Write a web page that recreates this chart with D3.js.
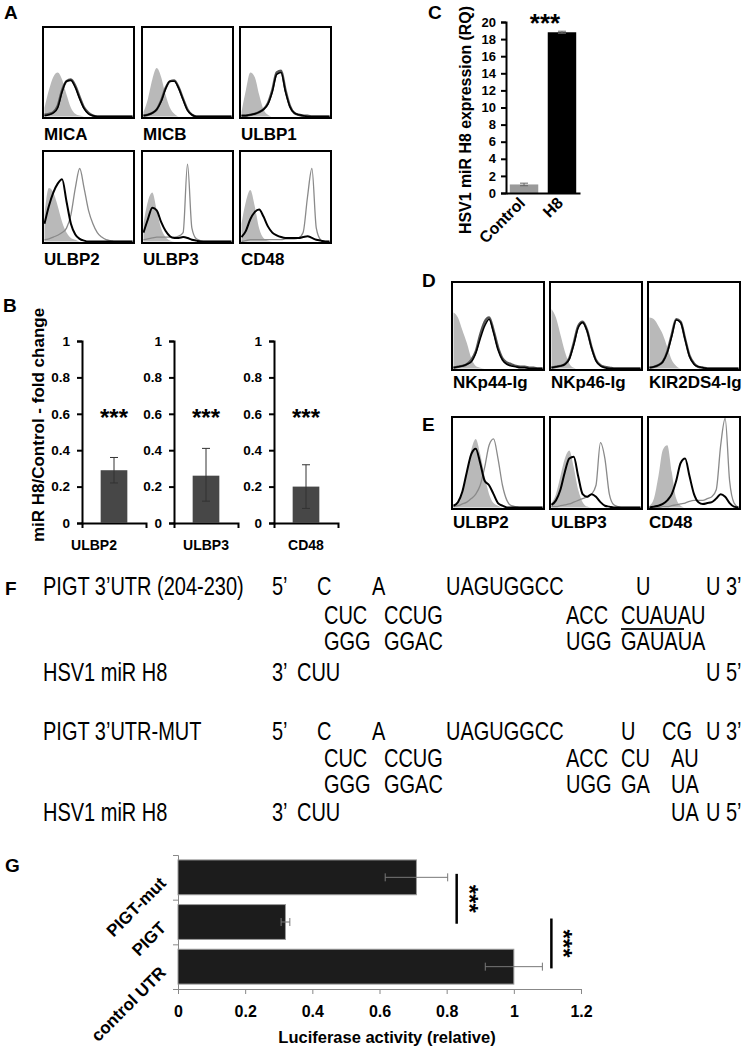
<!DOCTYPE html>
<html lang="en">
<head>
<meta charset="UTF-8">
<script src="https://d3js.org/d3.v7.min.js"></script>
<style>
  body { margin: 0; background: #fff; }
  svg text { font-family: "Liberation Sans", Arial, sans-serif; fill: #000; }
  .seq { font-size: 25px; }
</style>
</head>
<body>
<div id="chart_area"></div>
<script>
// ---------- data ----------
// flow histograms, 21 channels across each box, height = fraction of box
var histA_labels = ["MICA", "MICB", "ULBP1", "ULBP2", "ULBP3", "CD48"];
var histA_iso = [
  [0.10,0.30,0.45,0.50,0.42,0.25,0.10,0.03,0.01,0,0,0,0,0,0,0,0,0,0,0,0],
  [0.05,0.20,0.42,0.55,0.45,0.25,0.10,0.03,0,0,0,0,0,0,0,0,0,0,0,0,0],
  [0.05,0.30,0.50,0.45,0.25,0.08,0.02,0,0,0,0,0,0,0,0,0,0,0,0,0,0],
  [0.30,0.60,0.55,0.40,0.22,0.10,0.04,0.02,0,0,0,0,0,0,0,0,0,0,0,0,0],
  [0.20,0.45,0.55,0.35,0.15,0.05,0.01,0,0,0,0,0,0,0,0,0,0,0,0,0,0],
  [0.20,0.45,0.58,0.40,0.15,0.04,0.01,0,0,0,0,0,0,0,0,0,0,0,0,0,0]
];
var histA_ctrl = [
  [0.02,0.03,0.05,0.12,0.30,0.40,0.42,0.35,0.22,0.10,0.04,0.01,0,0,0,0,0,0,0,0,0],
  [0.01,0.02,0.04,0.08,0.18,0.32,0.40,0.41,0.33,0.20,0.08,0.02,0,0,0,0,0,0,0,0,0],
  [0.01,0.01,0.02,0.03,0.05,0.08,0.15,0.30,0.50,0.52,0.30,0.12,0.04,0.02,0.01,0.01,0,0,0,0,0],
  [0.02,0.03,0.05,0.07,0.10,0.15,0.30,0.60,0.82,0.60,0.35,0.20,0.10,0.05,0.02,0.01,0,0,0,0,0],
  [0.02,0.03,0.04,0.05,0.05,0.05,0.05,0.05,0.06,0.10,0.87,0.15,0.03,0.01,0,0,0,0,0,0,0],
  [0,0.01,0.02,0.02,0.02,0.02,0.02,0.02,0.02,0.02,0.03,0.03,0.03,0.04,0.10,0.50,0.82,0.15,0.02,0,0]
];
var histA_h8 = [
  [0.01,0.02,0.04,0.10,0.28,0.40,0.41,0.33,0.20,0.09,0.03,0.01,0,0,0,0,0,0,0,0,0],
  [0.01,0.02,0.04,0.08,0.17,0.31,0.40,0.40,0.32,0.19,0.07,0.02,0,0,0,0,0,0,0,0,0],
  [0.01,0.01,0.02,0.03,0.05,0.08,0.14,0.28,0.48,0.50,0.28,0.11,0.04,0.02,0.01,0,0,0,0,0,0],
  [0.20,0.40,0.55,0.65,0.70,0.45,0.20,0.08,0.03,0.01,0,0,0,0,0,0,0,0,0,0,0],
  [0.10,0.25,0.38,0.35,0.22,0.12,0.06,0.04,0.04,0.05,0.04,0.02,0.01,0,0,0,0,0,0,0,0],
  [0.05,0.12,0.25,0.33,0.36,0.28,0.17,0.10,0.07,0.05,0.04,0.04,0.04,0.04,0.05,0.06,0.04,0.02,0.01,0,0]
];

var histD_labels = ["NKp44-Ig", "NKp46-Ig", "KIR2DS4-Ig"];
var histD_iso = [
  [0.66,0.60,0.45,0.30,0.12,0.03,0.01,0,0,0,0,0,0,0,0,0,0,0,0,0,0],
  [0.70,0.60,0.40,0.20,0.06,0.01,0,0,0,0,0,0,0,0,0,0,0,0,0,0,0],
  [0.60,0.58,0.50,0.40,0.25,0.10,0.03,0,0,0,0,0,0,0,0,0,0,0,0,0,0]
];
var histD_ctrl = [
  [0.01,0.02,0.03,0.05,0.10,0.20,0.40,0.55,0.60,0.45,0.25,0.12,0.07,0.05,0.03,0.02,0.02,0.01,0.01,0,0],
  [0.01,0.02,0.03,0.05,0.12,0.30,0.50,0.55,0.45,0.25,0.10,0.04,0.02,0.01,0,0,0,0,0,0,0],
  [0.01,0.02,0.04,0.08,0.20,0.40,0.58,0.55,0.35,0.15,0.06,0.02,0.01,0,0,0,0,0,0,0,0]
];
var histD_h8 = [
  [0.01,0.02,0.03,0.05,0.08,0.18,0.35,0.50,0.58,0.42,0.22,0.10,0.05,0.03,0.02,0.01,0.01,0,0,0,0],
  [0.01,0.02,0.03,0.05,0.11,0.28,0.48,0.54,0.44,0.24,0.09,0.03,0.01,0,0,0,0,0,0,0,0],
  [0.01,0.02,0.04,0.08,0.19,0.38,0.57,0.54,0.34,0.14,0.05,0.02,0.01,0,0,0,0,0,0,0,0]
];

var histE_labels = ["ULBP2", "ULBP3", "CD48"];
var histE_iso = [
  [0.02,0.08,0.20,0.40,0.65,0.77,0.60,0.35,0.15,0.05,0.02,0,0,0,0,0,0,0,0,0,0],
  [0.05,0.15,0.35,0.55,0.64,0.45,0.20,0.06,0.01,0,0,0,0,0,0,0,0,0,0,0,0],
  [0.02,0.10,0.35,0.65,0.70,0.40,0.10,0.02,0,0,0,0,0,0,0,0,0,0,0,0,0]
];
var histE_ctrl = [
  [0.01,0.02,0.04,0.06,0.10,0.15,0.25,0.45,0.70,0.77,0.55,0.25,0.08,0.02,0.01,0,0,0,0,0,0],
  [0.01,0.01,0.02,0.03,0.04,0.06,0.08,0.10,0.12,0.15,0.25,0.73,0.55,0.15,0.03,0.01,0,0,0,0,0],
  [0,0,0,0.01,0.01,0.02,0.03,0.04,0.05,0.07,0.08,0.08,0.08,0.10,0.12,0.20,0.70,1.00,0.30,0.05,0]
];
var histE_h8 = [
  [0.02,0.06,0.18,0.40,0.60,0.66,0.50,0.30,0.25,0.15,0.05,0.02,0,0,0,0,0,0,0,0,0],
  [0.03,0.08,0.20,0.40,0.55,0.57,0.35,0.15,0.12,0.15,0.12,0.06,0.02,0.01,0,0,0,0,0,0,0],
  [0,0.01,0.02,0.04,0.08,0.15,0.30,0.50,0.55,0.35,0.15,0.06,0.04,0.05,0.06,0.10,0.15,0.12,0.05,0.01,0]
];

// panel B
var foldGenes = ["ULBP2", "ULBP3", "CD48"];
var foldValues = [0.29, 0.26, 0.20];
var foldErrLow = [0.22, 0.12, 0.08];
var foldErrHigh = [0.36, 0.41, 0.32];
var foldTicks = [0, 0.2, 0.4, 0.6, 0.8, 1];

// panel C
var rqGroups = ["Control", "H8"];
var rqValues = [1.0, 18.8];
var rqErr = [0.15, 0.12];
var rqTicks = [0, 2, 4, 6, 8, 10, 12, 14, 16, 18, 20];

// panel G
var lucGroups = ["PIGT-mut", "PIGT", "control UTR"];
var lucValues = [0.71, 0.32, 1.0];
var lucErr = [0.093, 0.013, 0.085];
var lucTicks = [0, 0.2, 0.4, 0.6, 0.8, 1, 1.2];
var lucSig = [[0, 1], [1, 2]];

// panel F sequences
var seqWild = [
  [["PIGT 3\u2019UTR (204-230)", 43], ["5\u2019", 272], ["C", 317], ["A", 372], ["UAGUGGCC", 446], ["U", 636], ["U 3\u2019", 706]],
  [["CUC", 324], ["CCUG", 384], ["ACC", 566], ["CUAUAU", 621]],
  [["GGG", 324], ["GGAC", 384], ["UGG", 566], ["GAUAUA", 621]],
  [["HSV1 miR H8", 43], ["3\u2019", 272], ["CUU", 297], ["U 5\u2019", 706]]
];
var seqMut = [
  [["PIGT 3\u2019UTR-MUT", 43], ["5\u2019", 272], ["C", 317], ["A", 372], ["UAGUGGCC", 446], ["U", 621], ["CG", 662], ["U 3\u2019", 706]],
  [["CUC", 324], ["CCUG", 384], ["ACC", 566], ["CU", 621], ["AU", 671]],
  [["GGG", 324], ["GGAC", 384], ["UGG", 566], ["GA", 621], ["UA", 671]],
  [["HSV1 miR H8", 43], ["3\u2019", 272], ["CUU", 297], ["UA", 671], ["U 5\u2019", 706]]
];

// ---------- drawing ----------
var svg = d3.select("#chart_area").append("svg")
  .attr("width", 744).attr("height", 1050);

function letter(t, x, y) {
  svg.append("text").attr("x", x).attr("y", y)
    .attr("font-weight", "bold").attr("font-size", 19).text(t);
}

function drawHist(x0, y0, w, h, iso, ctrl, h8, label, thin, gap) {
  var x = d3.scaleLinear().domain([0, iso.length - 1]).range([x0 + 1.5, x0 + w - 1.5]);
  var y = d3.scaleLinear().domain([0, 1]).range([y0 + h - 1.5, y0 + 1.5]);
  var area = d3.area().x(function(d, i) { return x(i); }).y0(y(0)).y1(function(d) { return y(d); })
    .curve(d3.curveMonotoneX);
  var line = d3.line().x(function(d, i) { return x(i); }).y(function(d) { return y(d); })
    .curve(d3.curveMonotoneX);
  svg.append("path").datum(iso).attr("d", area).attr("fill", "#b9b9b9");
  svg.append("path").datum(ctrl).attr("d", line).attr("fill", "none")
    .attr("stroke", thin ? "#8a8a8a" : "#555").attr("stroke-width", thin ? 1.3 : 2.4);
  svg.append("path").datum(h8).attr("d", line).attr("fill", "none")
    .attr("stroke", "#000").attr("stroke-width", thin ? 2 : 1.6);
  svg.append("rect").attr("x", x0).attr("y", y0).attr("width", w).attr("height", h)
    .attr("fill", "none").attr("stroke", "#000").attr("stroke-width", 2);
  svg.append("text").attr("x", x0 + 1).attr("y", y0 + h + gap)
    .attr("font-weight", "bold").attr("font-size", 17).text(label);
}

// panel A
letter("A", 4, 19);
var aCols = [43, 142, 240];
histA_labels.forEach(function(lab, i) {
  var row = Math.floor(i / 3);
  drawHist(aCols[i % 3], row ? 151 : 27, 91, row ? 92 : 91,
    histA_iso[i], histA_ctrl[i], histA_h8[i], lab, row === 1, 22);
});

// panel D and E
letter("D", 422, 287);
letter("E", 422, 431);
var deCols = [452, 550, 648];
histD_labels.forEach(function(lab, i) {
  drawHist(deCols[i], 282, 92, 88, histD_iso[i], histD_ctrl[i], histD_h8[i], lab, false, 18);
});
histE_labels.forEach(function(lab, i) {
  drawHist(deCols[i], 417, 92, 92, histE_iso[i], histE_ctrl[i], histE_h8[i], lab, true, 19);
});

// panel B
letter("B", 3, 312);
var yB = d3.scaleLinear().domain([0, 1]).range([523, 341]);
var bAxisX = [82, 174, 274];
var bLabelShift = [-20, 0, 0];
foldGenes.forEach(function(gene, i) {
  var xB = d3.scaleBand().domain([gene]).range([bAxisX[i], bAxisX[i] + 64])
    .paddingInner(0.5).paddingOuter(0.35);
  var g = svg.append("g");
  g.append("g").attr("transform", "translate(0,523)")
    .call(d3.axisBottom(xB).tickSizeInner(0).tickSizeOuter(5).tickFormat(""))
    .call(function(s) { s.select(".domain").attr("stroke-width", 2); });
  g.append("g").attr("transform", "translate(" + bAxisX[i] + ",0)")
    .call(d3.axisLeft(yB).tickValues(foldTicks).tickFormat(d3.format("~g")).tickSize(5).tickPadding(7))
    .call(function(s) {
      s.select(".domain").attr("stroke-width", 2);
      s.selectAll(".tick line").attr("stroke-width", 2);
      s.selectAll("text").attr("font-size", 13.5).attr("font-weight", "bold")
        .attr("font-family", "Liberation Sans, Arial, sans-serif");
    });
  var cx = xB(gene) + xB.bandwidth() / 2;
  g.append("rect").attr("x", xB(gene)).attr("y", yB(foldValues[i]))
    .attr("width", xB.bandwidth()).attr("height", yB(0) - yB(foldValues[i]))
    .attr("fill", "#474747");
  g.append("line").attr("x1", cx).attr("x2", cx)
    .attr("y1", yB(foldErrLow[i])).attr("y2", yB(foldErrHigh[i]))
    .attr("stroke", "#333").attr("stroke-width", 1);
  [foldErrLow[i], foldErrHigh[i]].forEach(function(v) {
    g.append("line").attr("x1", cx - 4).attr("x2", cx + 4).attr("y1", yB(v)).attr("y2", yB(v))
      .attr("stroke", "#333").attr("stroke-width", 1);
  });
  g.append("text").attr("x", cx).attr("y", yB(0.6) + 12).attr("text-anchor", "middle")
    .attr("font-weight", "bold").attr("font-size", 24).text("***");
  g.append("text").attr("x", cx + bLabelShift[i]).attr("y", 550).attr("text-anchor", "middle")
    .attr("font-weight", "bold").attr("font-size", 14).text(gene);
});
svg.append("text").attr("transform", "translate(44,425) rotate(-90)")
  .attr("text-anchor", "middle").attr("font-weight", "bold").attr("font-size", 17)
  .text("miR H8/Control - fold change");

// panel C
letter("C", 428, 19);
var yC = d3.scaleLinear().domain([0, 20]).range([193, 22]);
var xC = d3.scaleBand().domain(rqGroups).range([506, 580]).paddingInner(0.25).paddingOuter(0.1);
svg.append("g").attr("transform", "translate(506,0)")
  .call(d3.axisLeft(yC).tickValues(rqTicks).tickSize(5).tickPadding(5))
  .call(function(s) {
    s.select(".domain").attr("stroke-width", 2);
    s.selectAll(".tick line").attr("stroke-width", 2);
    s.selectAll("text").attr("font-size", 13).attr("font-weight", "bold")
      .attr("font-family", "Liberation Sans, Arial, sans-serif");
  });
svg.selectAll(".rqbar").data(rqGroups).enter().append("rect")
  .attr("x", function(d) { return xC(d); })
  .attr("y", function(d, i) { return yC(rqValues[i]); })
  .attr("width", xC.bandwidth())
  .attr("height", function(d, i) { return yC(0) - yC(rqValues[i]); })
  .attr("fill", function(d, i) { return i ? "#000" : "#9a9a9a"; });
rqGroups.forEach(function(d, i) {
  var cx = xC(d) + xC.bandwidth() / 2;
  svg.append("line").attr("x1", cx).attr("x2", cx)
    .attr("y1", yC(rqValues[i] - rqErr[i])).attr("y2", yC(rqValues[i] + rqErr[i]))
    .attr("stroke", "#666").attr("stroke-width", 1);
  [rqValues[i] - rqErr[i], rqValues[i] + rqErr[i]].forEach(function(v) {
    svg.append("line").attr("x1", cx - 4).attr("x2", cx + 4).attr("y1", yC(v)).attr("y2", yC(v))
      .attr("stroke", "#666").attr("stroke-width", 1);
  });
  svg.append("text").attr("transform", "translate(" + (cx + 2) + ",204) rotate(-45)")
    .attr("text-anchor", "end").attr("font-weight", "bold").attr("font-size", 16).text(d);
});
svg.append("g").attr("transform", "translate(0,193)")
  .call(d3.axisBottom(xC).tickSize(0).tickFormat(""))
  .call(function(s) { s.select(".domain").attr("stroke-width", 2); });
svg.append("text").attr("x", 545).attr("y", 32).attr("text-anchor", "middle")
  .attr("font-weight", "bold").attr("font-size", 26).text("***");
svg.append("text").attr("transform", "translate(471,120) rotate(-90)")
  .attr("text-anchor", "middle").attr("font-weight", "bold").attr("font-size", 16)
  .attr("textLength", 228).attr("lengthAdjust", "spacingAndGlyphs")
  .text("HSV1 miR H8 expression (RQ)");

// panel F (narrow sequence font)
letter("F", 5, 595);
function drawSeq(rows, rowY) {
  rows.forEach(function(row, r) {
    row.forEach(function(item) {
      svg.append("text").attr("class", "seq")
        .attr("transform", "translate(" + item[1] + "," + rowY[r] + ") scale(0.8,1)")
        .text(item[0]);
    });
  });
}
drawSeq(seqWild, [595, 624, 650, 681]);
drawSeq(seqMut, [740, 767, 793, 821]);
svg.append("line").attr("x1", 621).attr("x2", 684).attr("y1", 629).attr("y2", 629)
  .attr("stroke", "#222").attr("stroke-width", 2);

// panel G
letter("G", 5, 872);
var xG = d3.scaleLinear().domain([0, 1.2]).range([178, 581]);
var yG = d3.scaleBand().domain(lucGroups).range([855, 989]).paddingInner(0.22).paddingOuter(0.11);
svg.append("g").attr("transform", "translate(0,989)")
  .call(d3.axisBottom(xG).tickValues(lucTicks).tickFormat(d3.format("~g")).tickSize(5).tickPadding(12))
  .call(function(s) {
    s.selectAll("line, path").attr("stroke", "#888");
    s.selectAll("text").attr("font-size", 16).attr("font-weight", "bold")
      .attr("font-family", "Liberation Sans, Arial, sans-serif");
  });
var yIdx = d3.scaleLinear().domain([0, lucGroups.length]).range([989, 855]);
svg.append("g").attr("transform", "translate(178,0)")
  .call(d3.axisLeft(yIdx).ticks(lucGroups.length).tickSize(5).tickFormat(""))
  .call(function(s) { s.selectAll("line, path").attr("stroke", "#888"); });
svg.selectAll(".lucbar").data(lucGroups).enter().append("rect")
  .attr("x", xG(0)).attr("y", function(d) { return yG(d); })
  .attr("width", function(d, i) { return xG(lucValues[i]) - xG(0); })
  .attr("height", yG.bandwidth())
  .attr("fill", "#1c1c1c").attr("stroke", "#999").attr("stroke-width", 1);
lucGroups.forEach(function(d, i) {
  var cy = yG(d) + yG.bandwidth() / 2;
  var lo = xG(lucValues[i] - lucErr[i]), hi = xG(lucValues[i] + lucErr[i]);
  svg.append("line").attr("x1", lo).attr("x2", hi).attr("y1", cy).attr("y2", cy)
    .attr("stroke", "#777").attr("stroke-width", 1);
  [lo, hi].forEach(function(v) {
    svg.append("line").attr("x1", v).attr("x2", v).attr("y1", cy - 4).attr("y2", cy + 4)
      .attr("stroke", "#777").attr("stroke-width", 1);
  });
  svg.append("text").attr("transform", "translate(167," + (cy + 7) + ") rotate(-45)")
    .attr("text-anchor", "end").attr("font-weight", "bold").attr("font-size", 17).text(d);
});
lucSig.forEach(function(p) {
  var top = d3.max(p, function(k) { return lucValues[k] + lucErr[k]; });
  var lx = xG(top) + 9;
  var y1 = yG(lucGroups[p[0]]) + yG.bandwidth() * 0.4;
  var y2 = yG(lucGroups[p[1]]) + yG.bandwidth() * 0.55;
  svg.append("line").attr("x1", lx).attr("x2", lx).attr("y1", y1).attr("y2", y2)
    .attr("stroke", "#000").attr("stroke-width", 2.5);
  svg.append("text").attr("transform", "translate(" + (lx + 4) + "," + ((y1 + y2) / 2) + ") rotate(90)")
    .attr("text-anchor", "middle").attr("font-weight", "bold").attr("font-size", 24).text("***");
});
svg.append("text").attr("x", 387).attr("y", 1043).attr("text-anchor", "middle")
  .attr("font-weight", "bold").attr("font-size", 16.5).text("Luciferase activity (relative)");
</script>
</body>
</html>
